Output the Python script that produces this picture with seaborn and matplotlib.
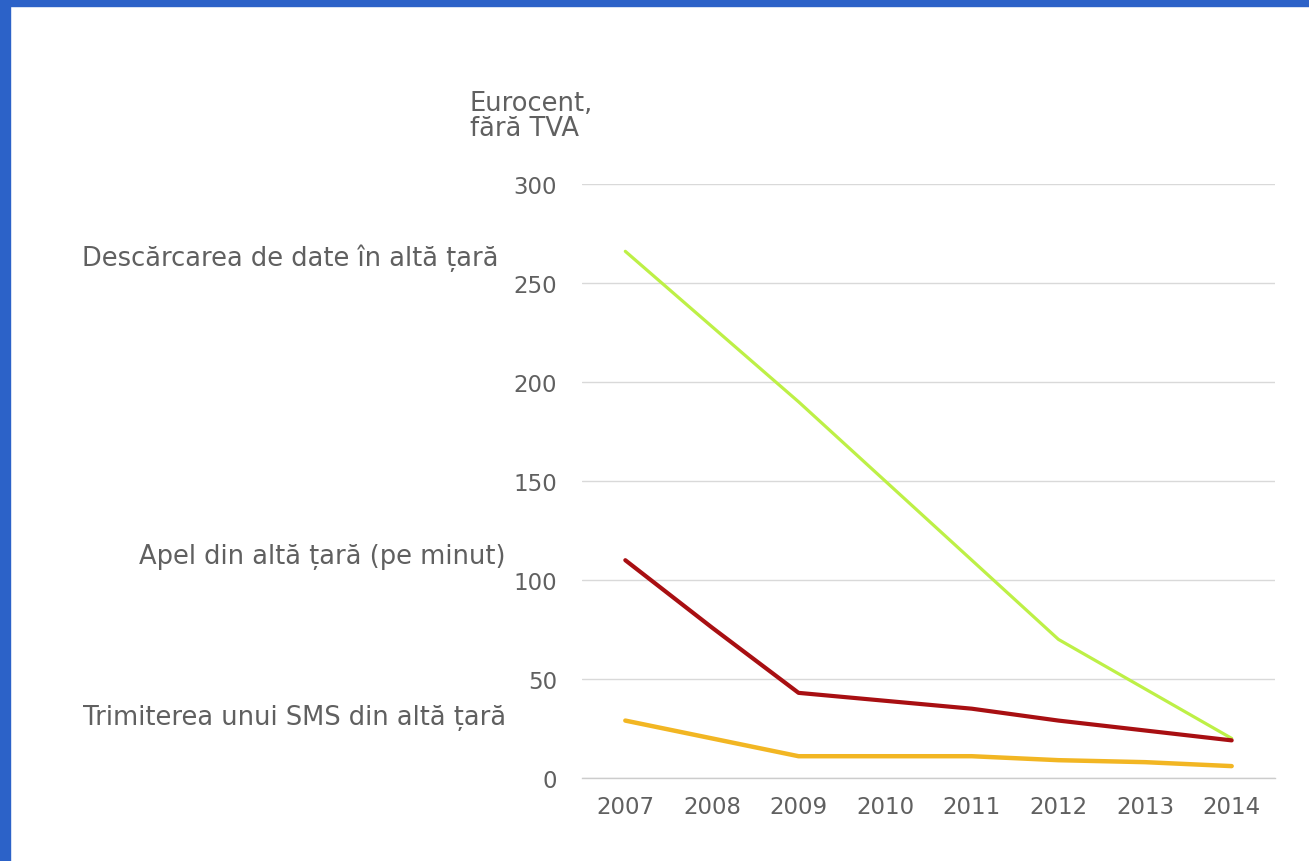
import matplotlib
matplotlib.use("Agg")
import matplotlib.pyplot as plt
import seaborn as sns
import pandas as pd
from matplotlib.patches import Rectangle

years = [2007, 2008, 2009, 2010, 2011, 2012, 2013, 2014]
data_download = [266, 228, 190, 150, 110, 70, 45, 20]
call_abroad = [110, 76, 43, 39, 35, 29, 24, 19]
sms_abroad = [29, 20, 11, 11, 11, 9, 8, 6]
series_names = ["Descărcarea de date în altă țară",
                "Apel din altă țară (pe minut)",
                "Trimiterea unui SMS din altă țară"]
y_ticks = [0, 50, 100, 150, 200, 250, 300]
y_title = "Eurocent,\nfără TVA"

df = pd.DataFrame({
    "year": years * 3,
    "value": data_download + call_abroad + sms_abroad,
    "series": [series_names[0]] * len(years) + [series_names[1]] * len(years) + [series_names[2]] * len(years),
})

sns.set_theme(style="white")
plt.rcParams['font.family'] = ['DejaVu Sans']

colors = {series_names[0]: "#bdf046", series_names[1]: "#a80f12", series_names[2]: "#f2b623"}
widths = {series_names[0]: 2.3, series_names[1]: 3.0, series_names[2]: 3.2}
text_color = "#606060"

fig = plt.figure(figsize=(13.09, 8.62), dpi=100)
fig.patch.set_facecolor("white")
# blue frame (left and top)
fig.patches.append(Rectangle((0, 0), 10 / 1309, 1, transform=fig.transFigure, color="#2c62c8", zorder=10))
fig.patches.append(Rectangle((0, 1 - 7 / 862), 1, 7 / 862, transform=fig.transFigure, color="#2c62c8", zorder=10))

ax = fig.add_axes([582 / 1309, 1 - 779 / 862, (1275 - 582) / 1309, (779 - 185) / 862])
for name in series_names:
    sub = df[df["series"] == name]
    sns.lineplot(data=sub, x="year", y="value", ax=ax, color=colors[name],
                 linewidth=widths[name], legend=False, solid_capstyle="round",
                 solid_joinstyle="round")

ax.set_xlim(2006.5, 2014.5)
ax.set_ylim(0, 300)
ax.set_xlabel("")
ax.set_ylabel("")
ax.set_yticks(y_ticks)
ax.set_yticklabels([str(v) for v in y_ticks], fontsize=16.5, color=text_color)
ax.set_xticks(years + [2014.5])
ax.set_xticklabels([str(y) for y in years] + [""], fontsize=16.5, color=text_color)
ax.tick_params(axis="y", length=0, pad=18)
ax.tick_params(axis="x", length=7, width=1, color="#cccccc", pad=5, direction="out")
ax.yaxis.grid(True, color="#d9d9d9", linewidth=1)
ax.xaxis.grid(False)
for s in ["top", "right", "left"]:
    ax.spines[s].set_visible(False)
ax.spines["bottom"].set_color("#cccccc")
ax.spines["bottom"].set_linewidth(1)
ax.set_axisbelow(True)
ax.set_zorder(1)

# series labels on the left
fig.text(498 / 1309, 1 - 258 / 862, series_names[0], ha="right", va="center", fontsize=18.5, color=text_color)
fig.text(505 / 1309, 1 - 557 / 862, series_names[1], ha="right", va="center", fontsize=18.5, color=text_color)
fig.text(506 / 1309, 1 - 718 / 862, series_names[2], ha="right", va="center", fontsize=18.5, color=text_color)

fig.text(470 / 1309, 1 - 117 / 862, y_title, ha="left", va="center", fontsize=18.5, color=text_color, linespacing=0.95)

fig.savefig("out.png", dpi=100, facecolor="white")
